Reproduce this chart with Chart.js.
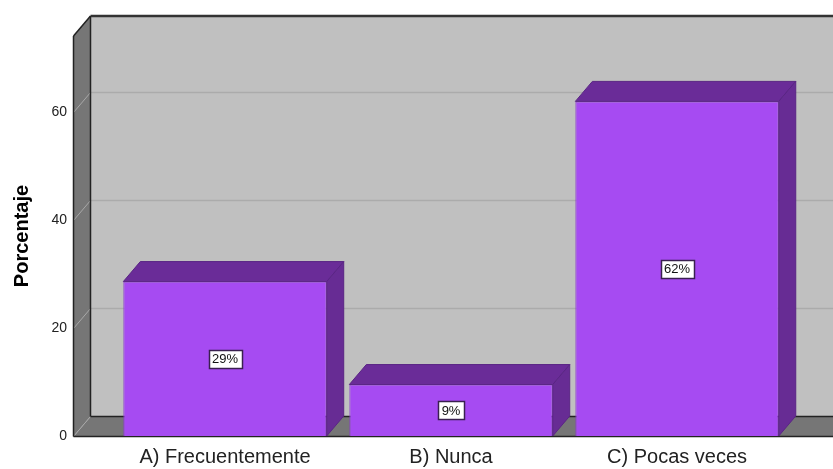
<!DOCTYPE html>
<html>
<head>
<meta charset="utf-8">
<script src="https://cdn.jsdelivr.net/npm/chart.js@4.4.0/dist/chart.umd.min.js"></script>
<style>
  html, body { margin: 0; padding: 0; background: #fff; }
  #wrap { width: 833px; height: 469px; }
</style>
</head>
<body>
<div id="wrap"><canvas id="chart" width="833" height="469"></canvas></div>
<script>
// data
const categories = ["A) Frecuentemente", "B) Nunca", "C) Pocas veces"];
const percentages = [28.57, 9.52, 61.9];
const barLabels = ["29%", "9%", "62%"];
const yTicks = [0, 20, 40, 60];

// depth of the 3D box
const DX = 17;
const DY = 20;

function poly(ctx, pts, fill, stroke) {
  ctx.beginPath();
  ctx.moveTo(pts[0][0], pts[0][1]);
  for (let i = 1; i < pts.length; i++) ctx.lineTo(pts[i][0], pts[i][1]);
  ctx.closePath();
  if (fill) { ctx.fillStyle = fill; ctx.fill(); }
  if (stroke) { ctx.strokeStyle = stroke; ctx.lineWidth = 1; ctx.stroke(); }
}

function line(ctx, x1, y1, x2, y2, color, w) {
  ctx.beginPath();
  ctx.moveTo(x1, y1);
  ctx.lineTo(x2, y2);
  ctx.strokeStyle = color;
  ctx.lineWidth = w || 1;
  ctx.stroke();
}

const box3d = {
  id: "box3d",
  beforeDatasetsDraw(chart) {
    const ctx = chart.ctx;
    const a = chart.chartArea;
    const ys = chart.scales.y;
    const L = a.left + 0.5, R = a.right + 40, T = a.top, B = a.bottom + 0.5;
    ctx.save();
    // back wall
    ctx.fillStyle = "#c0c0c0";
    ctx.fillRect(L + DX, T - DY, R - L, B - T);
    // grid lines on back wall
    yTicks.forEach(function (v) {
      if (v === 0) return;
      const y = Math.round(ys.getPixelForValue(v)) + 0.5 - DY;
      line(ctx, L + DX, y, R + DX, y, "#ababab", 1.5);
    });
    // left wall
    poly(ctx, [[L, T], [L + DX, T - DY], [L + DX, B - DY], [L, B]], "#767676");
    // floor
    poly(ctx, [[L, B], [L + DX, B - DY], [R + DX, B - DY], [R, B]], "#767676");
    // diagonal tick lines on the left wall / floor
    yTicks.forEach(function (v) {
      const y = Math.round(ys.getPixelForValue(v)) + 0.5;
      line(ctx, L, y, L + DX, y - DY, "#a8a8a8", 1);
    });
    // edges
    line(ctx, L + DX, T - DY, L + DX, B - DY, "#222", 1.5);
    line(ctx, L + DX, B - DY, R + DX, B - DY, "#222", 1.5);
    line(ctx, L + DX, T - DY, R + DX, T - DY, "#333", 2.5);
    line(ctx, L, T, L + DX, T - DY, "#222", 1.5);
    line(ctx, L, T, L, B, "#222", 1.5);
    line(ctx, L, B, R, B, "#222", 1.5);
    ctx.restore();
  },
  afterDatasetsDraw(chart) {
    const ctx = chart.ctx;
    const meta = chart.getDatasetMeta(0);
    ctx.save();
    meta.data.forEach(function (bar, i) {
      const w = bar.width;
      const l = bar.x - w / 2, r = bar.x + w / 2;
      const t = bar.y, b = bar.base;
      // top face
      poly(ctx, [[l, t], [l + DX, t - DY], [r + DX, t - DY], [r, t]], "#6a2c98", "#5a2585");
      // side face
      poly(ctx, [[r, t], [r + DX, t - DY], [r + DX, b - DY], [r, b]], "#672c94", "#5a2585");
      // value label
      const cy = (t + b) / 2;
      ctx.font = "13px 'Liberation Sans', Arial, sans-serif";
      const tw = ctx.measureText(barLabels[i]).width;
      const bw = Math.round(tw + 7), bh = 18;
      const bx = Math.round(bar.x - bw / 2) + 0.5, by = Math.round(cy - bh / 2) + 0.5;
      ctx.fillStyle = "#ffffff";
      ctx.fillRect(bx, by, bw, bh);
      ctx.strokeStyle = "#3a2050";
      ctx.lineWidth = 1.5;
      ctx.strokeRect(bx, by, bw, bh);
      ctx.fillStyle = "#111";
      ctx.textAlign = "center";
      ctx.textBaseline = "middle";
      ctx.fillText(barLabels[i], bar.x, cy + 1);
    });
    ctx.restore();
  }
};

const points = categories.map(function (c, i) { return { x: i, y: percentages[i] }; });

new Chart(document.getElementById("chart").getContext("2d"), {
  type: "bar",
  data: {
    datasets: [{
      data: points,
      backgroundColor: "#a64bf2",
      borderColor: "#8a3ccc",
      borderWidth: 1,
      categoryPercentage: 0.9,
      barPercentage: 1.0
    }]
  },
  options: {
    responsive: false,
    animation: false,
    layout: { padding: { top: 36, right: 0, left: 0, bottom: 0 } },
    plugins: { legend: { display: false }, tooltip: { enabled: false } },
    scales: {
      x: {
        type: "linear",
        offset: false,
        min: -0.6726,
        max: 2.69,
        grid: { display: false, drawTicks: false, offset: false },
        border: { display: false },
        afterFit: function (s) { s.height = 33; },
        ticks: {
          stepSize: 1,
          includeBounds: false,
          autoSkip: false,
          maxRotation: 0,
          padding: 9,
          color: "#222",
          font: { family: "'Liberation Sans', Arial, sans-serif", size: 20 },
          callback: function (v) {
            return Number.isInteger(v) && categories[v] !== undefined ? categories[v] : "";
          }
        }
      },
      y: {
        min: 0,
        max: 74,
        grid: { display: false, drawTicks: false },
        border: { display: false },
        afterFit: function (s) { s.width = 73; },
        afterBuildTicks: function (s) { s.ticks = yTicks.map(function (v) { return { value: v }; }); },
        ticks: {
          padding: 6,
          color: "#222",
          font: { family: "'Liberation Sans', Arial, sans-serif", size: 14 }
        },
        title: {
          display: true,
          text: "Porcentaje",
          color: "#000",
          padding: { top: 10, bottom: 0 },
          font: { family: "'Liberation Sans', Arial, sans-serif", size: 20, weight: "bold" }
        }
      }
    }
  },
  plugins: [box3d]
});
</script>
</body>
</html>
